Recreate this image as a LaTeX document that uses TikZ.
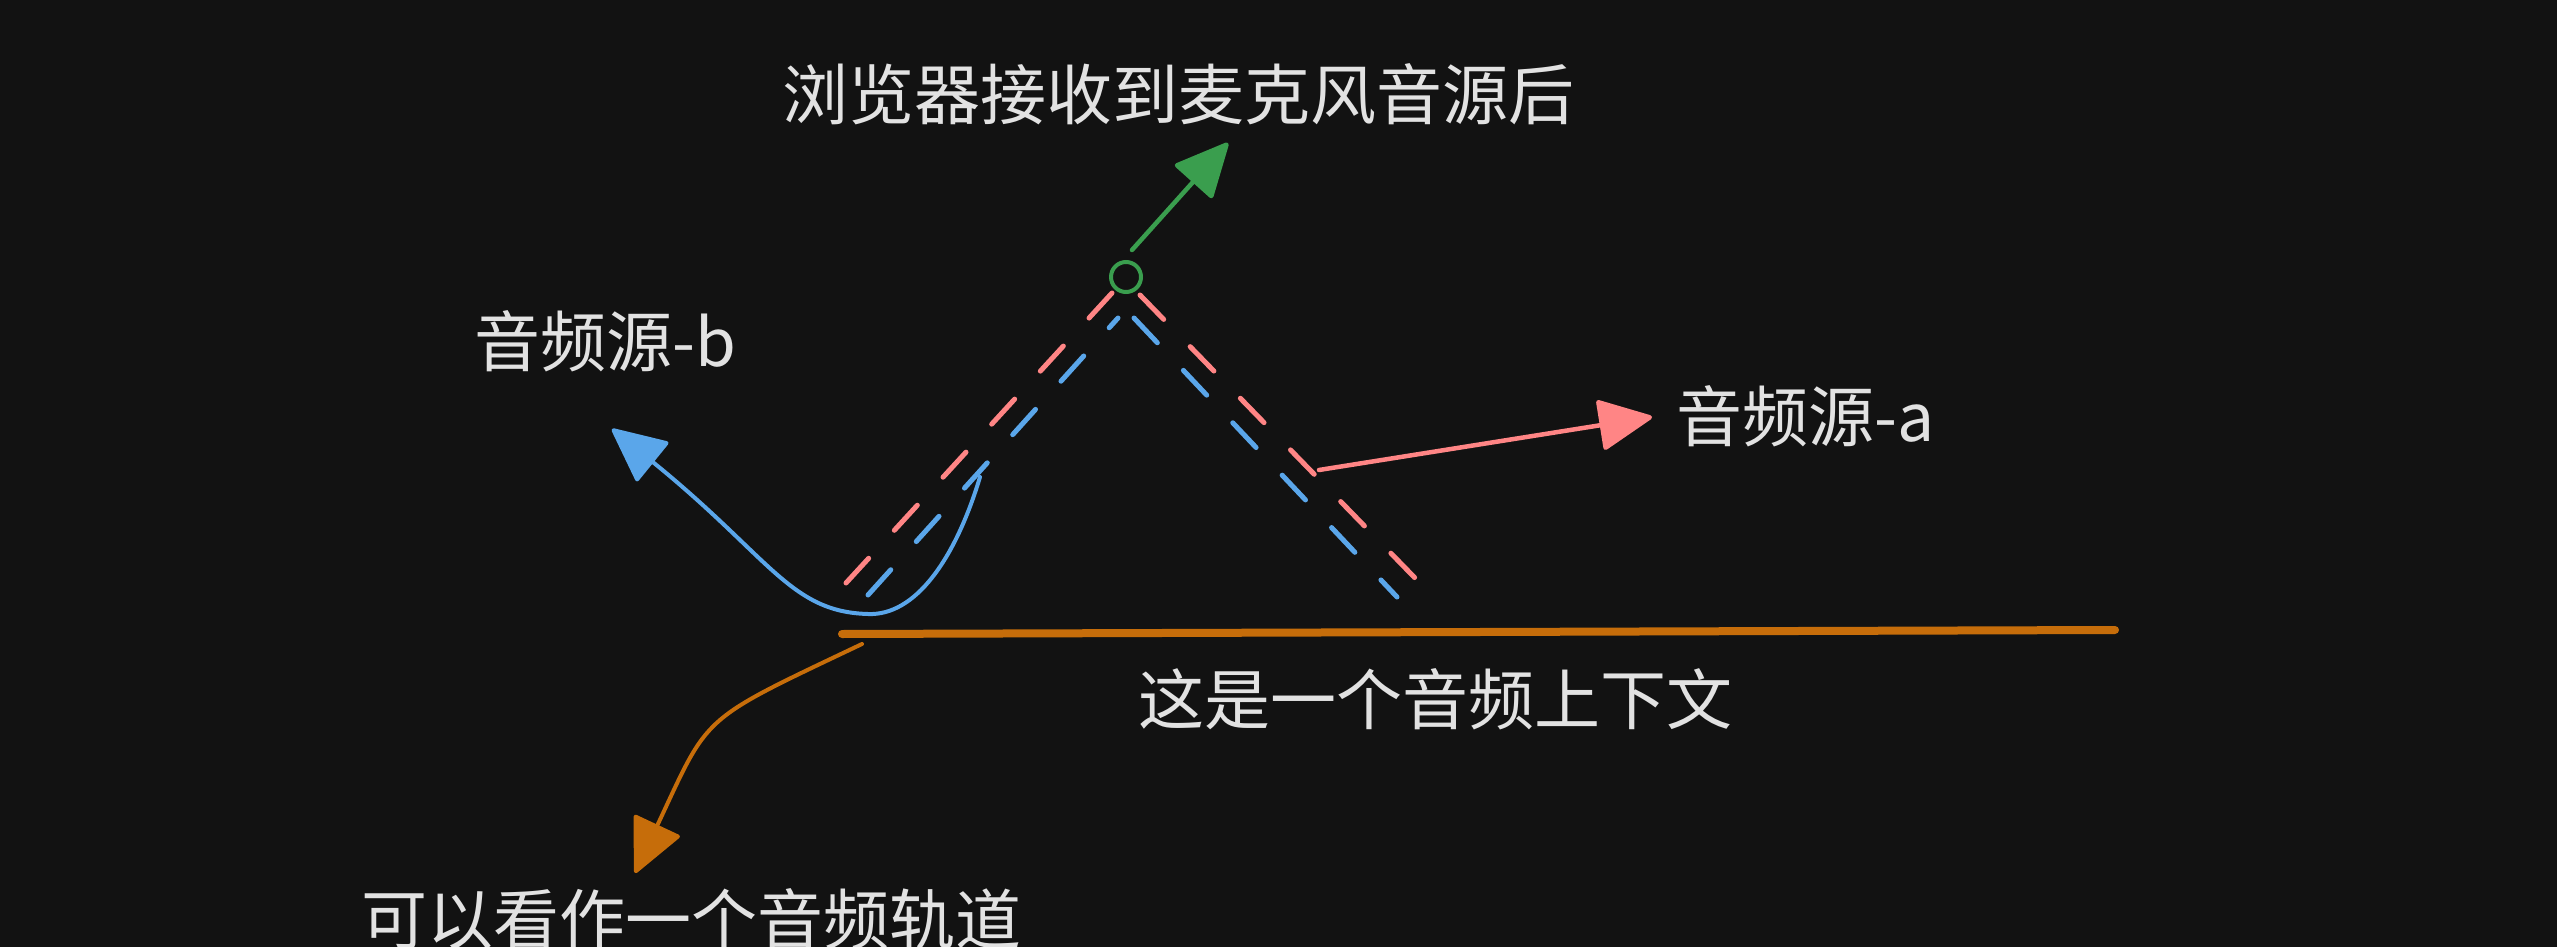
\documentclass[tikz,border=0pt]{standalone}
\usepackage{fontspec}
\setmainfont{Noto Sans CJK SC}
\usetikzlibrary{arrows.meta}
\definecolor{bg}{HTML}{121212}
\definecolor{txt}{HTML}{E2E2E2}
\definecolor{pinkc}{HTML}{FF8585}
\definecolor{bluec}{HTML}{5AA6EA}
\definecolor{greenc}{HTML}{3A9E4E}
\definecolor{orangec}{HTML}{C66D0A}
\tikzset{
  lbl/.style={text=txt, inner sep=0pt, anchor=center, font=\fontsize{66pt}{70pt}\selectfont},
  dashline/.style={line width=5pt, line cap=round, dash pattern=on 34pt off 38pt},
  arr/.style={line width=4.5pt, line cap=round, line join=round,
    -{Triangle[length=56pt,width=52pt,round]}},
}
\begin{document}
\begin{tikzpicture}[x=1pt,y=-1pt]
\fill[bg] (0,0) rectangle (2557,947);
\useasboundingbox (0,0) rectangle (2557,947);

% texts
\node[lbl] (title) at (1178,94) {浏览器接收到麦克风音源后};
\node[lbl] (srcb) at (605,341) {音频源-b};
\node[lbl] (srca) at (1806,416) {音频源-a};
\node[lbl] (ctx) at (1435,699) {这是一个音频上下文};
\node[lbl] (track) at (691,919) {可以看作一个音频轨道};

% mic circle
\node[draw=greenc, line width=4pt, circle, minimum size=30pt, inner sep=0pt] (mic) at (1126,277) {};

% dashed paths
\coordinate (p1) at (1112,293);
\coordinate (p2) at (846,583);
\coordinate (b1) at (1118,318);
\coordinate (b2) at (868,595);
\coordinate (p3) at (1140,295);
\coordinate (p4) at (1415,578);
\coordinate (b3) at (1134,318);
\coordinate (b4) at (1397,597);
\draw[dashline, pinkc] (p1) -- (p2);
\draw[dashline, bluec] (b2) -- (b1);
\draw[dashline, pinkc] (p3) -- (p4);
\draw[dashline, bluec] (b3) -- (b4);

% audio context line
\coordinate (ctxl) at (842,634);
\coordinate (ctxr) at (2115,630);
\draw[orangec, line width=8pt, line cap=round] (ctxl) -- (ctxr);

% green arrow
\coordinate (gs) at (1132,250);
\coordinate (gt) at (1228,143);
\draw[arr, greenc] (gs) -- (gt);

% pink arrow
\coordinate (ps) at (1319,470);
\coordinate (pt) at (1652,417);
\draw[arr, pinkc] (ps) -- (pt);

% blue curved arrow
\coordinate (bs) at (980,477);
\coordinate (bb) at (868,614);
\coordinate (bt) at (612,429);
\draw[arr, bluec, line width=4pt] (bs) .. controls (955,560) and (915,616) .. (bb)
  .. controls (790,612) and (770,557) .. (bt);

% orange curved arrow
\coordinate (os) at (862,644);
\coordinate (ot) at (635,873);
\draw[arr, orangec, line width=4pt] (os) .. controls (698,722) and (710,713) .. (ot);
\end{tikzpicture}
\end{document}
